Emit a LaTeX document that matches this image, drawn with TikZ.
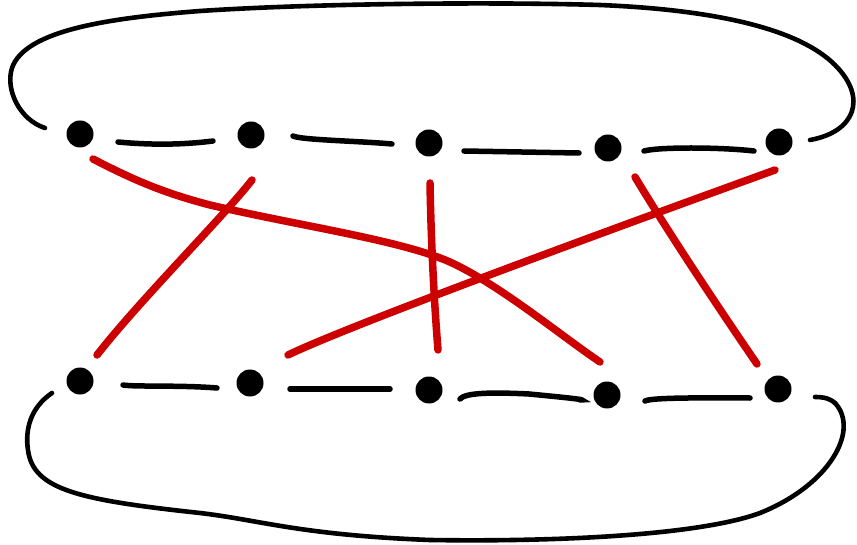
\documentclass[tikz,border=0pt]{standalone}
\usetikzlibrary{calc}
\definecolor{edgered}{HTML}{CC0000}
\tikzset{
  dot/.style={circle,fill=black,inner sep=0pt,minimum size=27pt},
  seg/.style={line width=5.5pt,line cap=round,black},
  loopline/.style={line width=4.6pt,line cap=round,black},
  redge/.style={line width=7.5pt,line cap=round,edgered}
}
\begin{document}
\begin{tikzpicture}[x=1pt,y=-1pt]
\useasboundingbox (0,0) rectangle (857,545);
% dots
\node[dot] (t1) at (80,134) {};
\node[dot] (t2) at (251,135) {};
\node[dot] (t3) at (429,143) {};
\node[dot] (t4) at (608,148) {};
\node[dot] (t5) at (779,142) {};
\node[dot] (b1) at (80,381) {};
\node[dot] (b2) at (250,383) {};
\node[dot] (b3) at (429,390) {};
\node[dot] (b4) at (607,395) {};
\node[dot] (b5) at (778,389) {};
% black segments
\draw[seg] ($(t1)+(38,8)$) .. controls ($(t1)+(70,11)$) and ($(t2)+(-70,10)$) .. ($(t2)+(-38,6)$);
\draw[seg] ($(t2)+(42,1)$) .. controls ($(t2)+(50,5)$) and ($(t3)+(-70,-2)$) .. ($(t3)+(-37,1)$);
\draw[seg] ($(t3)+(35,8)$) -- ($(t4)+(-29,5)$);
\draw[seg] ($(t4)+(36,3)$) .. controls ($(t4)+(50,-1)$) and ($(t5)+(-60,5)$) .. ($(t5)+(-25,9)$);
\draw[seg] ($(b1)+(43,4)$) .. controls ($(b1)+(55,6)$) and ($(b2)+(-70,2)$) .. ($(b2)+(-33,5)$);
\draw[seg] ($(b2)+(40,6)$) -- ($(b3)+(-39,-1)$);
\draw[seg] ($(b3)+(31,9)$) .. controls ($(b3)+(36,3)$) and ($(b3)+(60,2)$) .. ($(b3)+(100,4)$) .. controls ($(b4)+(-15,5)$) and ($(b4)+(-25,5)$) .. ($(b4)+(-27,5)$);
\draw[seg] ($(b4)+(38,6)$) .. controls ($(b4)+(45,2)$) and ($(b5)+(-60,9)$) .. ($(b5)+(-28,9)$);
% top loop
\draw[loopline] ($(t1)+(-35,-6)$) .. controls (20,120) and (5,90) .. (12,68)
  .. controls (25,30) and (110,18) .. (200,11)
  .. controls (320,3) and (500,2) .. (600,5)
  .. controls (720,10) and (800,30) .. (835,65)
  .. controls (868,98) and (855,132) .. ($(t5)+(31,-2)$);
% bottom loop
\draw[loopline] ($(b1)+(-28,12)$) .. controls (30,408) and (25,430) .. (28,450)
  .. controls (33,490) and (80,500) .. (200,513)
  .. controls (260,520) and (300,535) .. (430,540)
  .. controls (560,542) and (700,535) .. (760,513)
  .. controls (830,485) and (860,430) .. (835,403)
  .. controls (828,397) and (820,397) .. ($(b5)+(37,8)$);
% red edges
\draw[redge] ($(t1)+(13,25)$) .. controls (130,178) and (160,192) .. (210,205)
  .. controls (300,226) and (400,240) .. (450,262)
  .. controls (500,285) and (560,335) .. ($(b4)+(-7,-33)$);
\draw[redge] ($(t2)+(1,45)$) .. controls (225,215) and (140,300) .. ($(b1)+(17,-26)$);
\draw[redge] ($(t3)+(1,40)$) .. controls (431,240) and (434,300) .. ($(b3)+(9,-40)$);
\draw[redge] ($(t5)+(-4,28)$) .. controls (720,190) and (360,320) .. ($(b2)+(38,-28)$);
\draw[redge] ($(t4)+(27,29)$) .. controls (670,235) and (720,310) .. ($(b5)+(-21,-25)$);
\end{tikzpicture}
\end{document}
